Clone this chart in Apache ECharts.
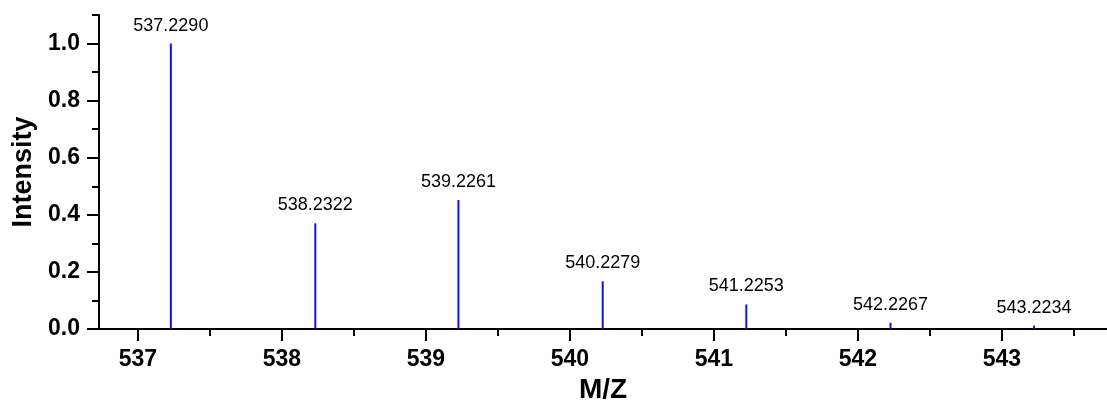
<!DOCTYPE html>
<html>
<head>
<meta charset="utf-8">
<script src="https://cdn.jsdelivr.net/npm/echarts@6/dist/echarts.min.js"></script>
<style>
html,body{margin:0;padding:0;background:#fff;}
#chart{width:1107px;height:409px;}
</style>
</head>
<body>
<div id="chart"></div>
<script>
// m/z of each peak and its relative intensity
const mzValues = [537.2290, 538.2322, 539.2261, 540.2279, 541.2253, 542.2267, 543.2234];
const intensities = [1.0, 0.37, 0.452, 0.167, 0.086, 0.022, 0.012];
// axis ticks
const xMajorTicks = [537, 538, 539, 540, 541, 542, 543];
const xMinorTicks = [537.5, 538.5, 539.5, 540.5, 541.5, 542.5, 543.5];
const yMajorTicks = [0, 0.2, 0.4, 0.6, 0.8, 1.0];
const yMinorTicks = [0.1, 0.3, 0.5, 0.7, 0.9, 1.1];

const FONT = "'Liberation Sans', Arial, sans-serif";
const chart = echarts.init(document.getElementById('chart'), null, {renderer: 'canvas'});

const xCommon = {type: 'value', min: 536.73, max: 543.73};
const yCommon = {type: 'value', min: 0, max: 1.1};

chart.setOption({
  animation: false,
  backgroundColor: '#ffffff',
  grid: {left: 99, right: 0, top: 15, bottom: 74, containLabel: false},
  xAxis: [
    Object.assign({}, xCommon, {
      name: 'M/Z',
      nameLocation: 'middle',
      nameGap: 47,
      nameTextStyle: {fontFamily: FONT, fontWeight: 'bold', fontSize: 28, color: '#000'},
      axisLine: {show: true, lineStyle: {color: '#000', width: 2}},
      axisTick: {show: true, customValues: xMajorTicks, length: 12, inside: false, lineStyle: {color: '#000', width: 2}},
      axisLabel: {show: true, customValues: xMajorTicks, margin: 19, fontFamily: FONT, fontWeight: 'bold', fontSize: 23, color: '#000',
        formatter: v => String(Math.round(v))},
      splitLine: {show: false}
    }),
    Object.assign({}, xCommon, {
      position: 'bottom',
      axisLine: {show: false},
      axisTick: {show: true, customValues: xMinorTicks, length: 7, inside: false, lineStyle: {color: '#000', width: 2}},
      axisLabel: {show: false},
      splitLine: {show: false}
    })
  ],
  yAxis: [
    Object.assign({}, yCommon, {
      name: 'Intensity',
      nameLocation: 'middle',
      nameGap: 59,
      nameRotate: 90,
      nameTextStyle: {fontFamily: FONT, fontWeight: 'bold', fontSize: 27, color: '#000'},
      axisLine: {show: true, lineStyle: {color: '#000', width: 2}},
      axisTick: {show: true, customValues: yMajorTicks, length: 12, inside: false, lineStyle: {color: '#000', width: 2}},
      axisLabel: {show: true, customValues: yMajorTicks, margin: 19, fontFamily: FONT, fontWeight: 'bold', fontSize: 23, color: '#000',
        formatter: v => v.toFixed(1)},
      splitLine: {show: false}
    }),
    Object.assign({}, yCommon, {
      position: 'left',
      axisLine: {show: false},
      axisTick: {show: true, customValues: yMinorTicks, length: 7, inside: false, lineStyle: {color: '#000', width: 2}},
      axisLabel: {show: false},
      splitLine: {show: false}
    })
  ],
  series: [{
    type: 'bar',
    xAxisIndex: 0,
    yAxisIndex: 0,
    barWidth: 2,
    itemStyle: {color: '#1414d8'},
    label: {
      show: true,
      position: 'top',
      distance: 9,
      fontFamily: FONT,
      fontSize: 18,
      color: '#000',
      formatter: p => p.value[0].toFixed(4)
    },
    data: mzValues.map((m, i) => [m, intensities[i]])
  }]
});
</script>
</body>
</html>
